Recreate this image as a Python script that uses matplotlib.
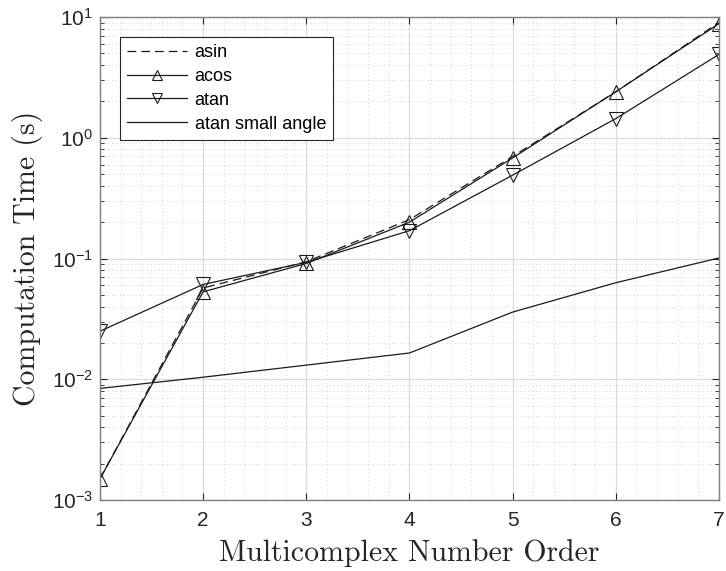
import numpy as np
import matplotlib
matplotlib.use('Agg')
import matplotlib.pyplot as plt
from matplotlib.ticker import LogLocator, MultipleLocator, LogFormatterSciNotation

# ===== data =====
order = [1, 2, 3, 4, 5, 6, 7]
t_asin = [0.0015, 0.057, 0.094, 0.21, 0.70, 2.40, 9.0]
t_acos = [0.0015, 0.053, 0.091, 0.20, 0.68, 2.40, 8.8]
t_atan = [0.025, 0.061, 0.093, 0.17, 0.49, 1.44, 4.9]
t_atan_small = [0.0084, 0.0104, 0.0131, 0.0165, 0.036, 0.063, 0.101]

plt.rcParams['mathtext.fontset'] = 'custom'
plt.rcParams['mathtext.rm'] = 'Liberation Sans'
plt.rcParams['mathtext.it'] = 'Liberation Sans:italic'
plt.rcParams['mathtext.bf'] = 'Liberation Sans:bold'
plt.rcParams['font.family'] = 'Liberation Sans'

fig = plt.figure(figsize=(7.26, 5.71), dpi=100)
ax = fig.add_axes([0.1377, 0.1243, 0.8525, 0.8459])

lc = '#1a1a1a'
ax.plot(order, t_asin, color=lc, lw=0.9, ls=(0, (7, 4)), label='asin')
ax.plot(order, t_acos, '-', color=lc, lw=0.9, marker='^', ms=10,
        mfc='none', mec=lc, mew=0.8, label='acos')
ax.plot(order, t_atan, '-', color=lc, lw=0.9, marker='v', ms=10,
        mfc='none', mec=lc, mew=0.8, label='atan')
ax.plot(order, t_atan_small, '-', color=lc, lw=0.9, label='atan small angle')

ax.set_yscale('log')
ax.set_xlim(1, 7)
ax.set_ylim(1e-3, 1e1)
ax.xaxis.set_major_locator(MultipleLocator(1))
ax.xaxis.set_minor_locator(MultipleLocator(0.2))
ax.yaxis.set_major_locator(LogLocator(base=10, numticks=10))
ax.yaxis.set_minor_locator(LogLocator(base=10, subs=np.arange(2, 10), numticks=20))
ax.yaxis.set_major_formatter(LogFormatterSciNotation())

ax.grid(True, which='major', color='#dcdcdc', lw=0.9, ls='-')
ax.grid(True, which='minor', color='#cfcfcf', lw=0.7, ls=(0, (1, 3)))
ax.set_axisbelow(True)

ax.tick_params(which='both', direction='in', top=True, right=True,
               labelsize=15, colors='#262626')
ax.tick_params(which='major', length=5)
ax.tick_params(which='minor', length=3)
ax.tick_params(axis='x', which='minor', length=0)
ax.tick_params(axis='x', pad=8)
ax.tick_params(axis='y', pad=5)
for s in ax.spines.values():
    s.set_color('#7f7f7f')
    s.set_linewidth(1.0)

ax.set_xlabel('Multicomplex Number Order', fontsize=21.5, family='cmr10',
              color='#262626', va='baseline')
ax.set_ylabel('Computation Time (s)', fontsize=21.5, family='cmr10',
              color='#262626', va='center')
ax.xaxis.set_label_coords(0.5, -0.126)
ax.yaxis.set_label_coords(-0.118, 0.5)

leg = ax.legend(loc='upper left', bbox_to_anchor=(0.032, 0.959), fontsize=13,
                handlelength=3.3, fancybox=False, framealpha=1,
                edgecolor='#262626', borderpad=0.4, labelspacing=0.38,
                handletextpad=0.45, borderaxespad=0, markerscale=0.75)
leg.get_frame().set_linewidth(0.8)

fig.savefig('out.png', dpi=100)
